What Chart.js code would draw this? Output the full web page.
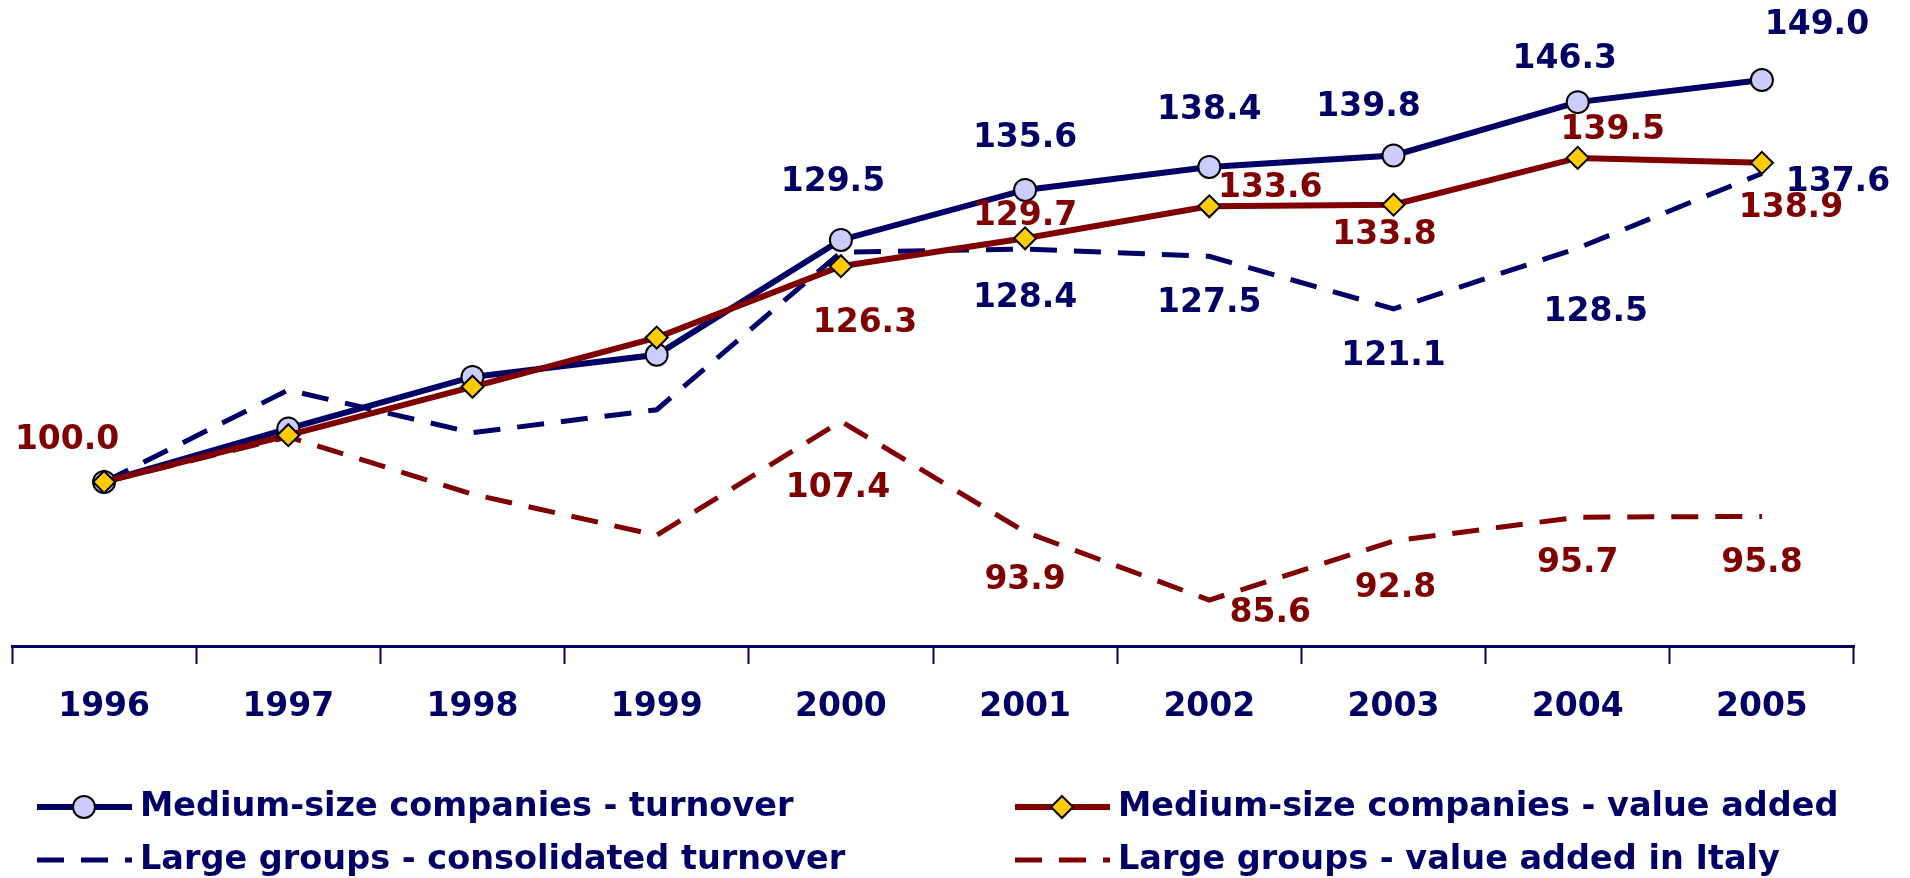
<!DOCTYPE html>
<html>
<head>
<meta charset="utf-8">
<script src="https://cdn.jsdelivr.net/npm/chart.js@4/dist/chart.umd.min.js"></script>
<style>
  body { margin: 0; background: #ffffff; }
  #wrap { width: 1910px; height: 878px; }
</style>
</head>
<body>
<div id="wrap"><canvas id="chartIndex"></canvas></div>
<script>
const years = ['1996', '1997', '1998', '1999', '2000', '2001', '2002', '2003', '2004', '2005'];

const mediumTurnover = [100.0, 106.5, 112.8, 115.5, 129.5, 135.6, 138.4, 139.8, 146.3, 149.0];
const mediumValueAdded = [100.0, 105.7, 111.6, 117.6, 126.3, 129.7, 133.6, 133.8, 139.5, 138.9];
const largeTurnover = [100.0, 111.2, 106.0, 108.8, 128.0, 128.4, 127.5, 121.1, 128.5, 137.6];
const largeValueAdded = [100.0, 105.5, 98.5, 93.5, 107.4, 93.9, 85.6, 92.8, 95.7, 95.8];

const seriesNames = [
  'Medium-size companies - turnover',
  'Medium-size companies - value added',
  'Large groups - consolidated turnover',
  'Large groups - value added in Italy',
];

const NAVY = '#000066';
const RED = '#800000';
const FONT = '"DejaVu Sans", Verdana, sans-serif';

// where each value label sits relative to its point (null = no label)
const labelOffsets = [
  [null, null, null, null, [-8, -58], [0, -51], [0, -57], [-25, -48], [-13, -43], [55, -55]],
  [[-37, -42], null, null, null, [24, 57], [0, -22], [61, -18], [-9, 31], [35, -27], [29, 46]],
  [null, null, null, null, null, [0, 49], [0, 47], [0, 48], [18, 64], [76, 9]],
  [null, null, null, null, [-3, 67], [0, 48], [61, 13], [2, 47], [0, 46], [0, 47]],
];
const labelColors = [NAVY, RED, NAVY, RED];

const drawMarker = (ctx, style, x, y, r) => {
  ctx.beginPath();
  if (style === 'circle') {
    ctx.arc(x, y, r, 0, Math.PI * 2);
    ctx.fillStyle = '#ccccff';
  } else {
    ctx.moveTo(x, y - r);
    ctx.lineTo(x + r, y);
    ctx.lineTo(x, y + r);
    ctx.lineTo(x - r, y);
    ctx.closePath();
    ctx.fillStyle = '#ffcc00';
  }
  ctx.fill();
  ctx.lineWidth = 2;
  ctx.strokeStyle = '#000000';
  ctx.stroke();
};

const valueLabels = {
  id: 'valueLabels',
  afterDatasetsDraw(chart) {
    const { ctx } = chart;
    ctx.save();
    ctx.font = `bold 33px ${FONT}`;
    ctx.textAlign = 'center';
    ctx.textBaseline = 'middle';
    chart.data.datasets.forEach((ds, i) => {
      const meta = chart.getDatasetMeta(i);
      meta.data.forEach((pt, j) => {
        const off = labelOffsets[i][j];
        if (!off) return;
        ctx.fillStyle = labelColors[i];
        ctx.fillText(ds.data[j].toFixed(1), pt.x + off[0], pt.y + off[1]);
      });
    });
    ctx.restore();
  },
};

const legendItems = [
  { x: 37, y: 807, color: NAVY, dash: [], marker: 'circle' },
  { x: 1015, y: 807, color: RED, dash: [], marker: 'diamond' },
  { x: 37, y: 860, color: NAVY, dash: [27, 17], marker: null },
  { x: 1015, y: 860, color: RED, dash: [27, 17], marker: null },
];

const bottomLegend = {
  id: 'bottomLegend',
  afterDraw(chart) {
    const { ctx } = chart;
    ctx.save();
    legendItems.forEach((item, i) => {
      ctx.beginPath();
      ctx.setLineDash(item.dash);
      ctx.lineWidth = item.dash.length ? 5 : 6;
      ctx.strokeStyle = item.color;
      ctx.moveTo(item.x, item.y);
      ctx.lineTo(item.x + 95, item.y);
      ctx.stroke();
      ctx.setLineDash([]);
      if (item.marker) drawMarker(ctx, item.marker, item.x + 47, item.y, 11);
      ctx.font = `bold 33.5px ${FONT}`;
      ctx.fillStyle = NAVY;
      ctx.textAlign = 'left';
      ctx.textBaseline = 'middle';
      ctx.fillText(seriesNames[i], item.x + 103, item.y);
    });
    ctx.restore();
  },
};

const lineSet = (label, data, color, dashed, marker, order) => ({
  label,
  data,
  borderColor: color,
  borderWidth: dashed ? 5 : 6,
  borderDash: dashed ? [27, 17] : [],
  tension: 0,
  fill: false,
  pointRadius: marker ? 11 : 0,
  pointStyle: marker === 'circle' ? 'circle' : 'rectRot',
  pointBackgroundColor: marker === 'circle' ? '#ccccff' : '#ffcc00',
  pointBorderColor: '#000000',
  pointBorderWidth: 2,
  order,
});

new Chart(document.querySelector('#chartIndex'), {
  type: 'line',
  data: {
    labels: years,
    datasets: [
      lineSet(seriesNames[0], mediumTurnover, NAVY, false, 'circle', 1),
      lineSet(seriesNames[1], mediumValueAdded, RED, false, 'diamond', 0),
      lineSet(seriesNames[2], largeTurnover, NAVY, true, null, 2),
      lineSet(seriesNames[3], largeValueAdded, RED, true, null, 3),
    ],
  },
  options: {
    responsive: true,
    maintainAspectRatio: false,
    animation: false,
    layout: {
      autoPadding: false,
      padding: { left: 12, right: 56, top: 0, bottom: 0 },
    },
    plugins: {
      legend: { display: false },
      tooltip: { enabled: false },
    },
    scales: {
      x: {
        offset: true,
        afterFit: (scale) => {
          scale.height = 232;
        },
        grid: {
          offset: true,
          drawOnChartArea: false,
          drawTicks: true,
          tickLength: 18,
          tickColor: NAVY,
          tickWidth: 2,
        },
        border: { color: NAVY, width: 3 },
        ticks: {
          color: NAVY,
          padding: 24,
          font: { family: FONT, size: 33, weight: 'bold' },
        },
      },
      y: {
        display: false,
        min: 80,
        max: 158.75,
      },
    },
  },
  plugins: [valueLabels, bottomLegend],
});
</script>
</body>
</html>
